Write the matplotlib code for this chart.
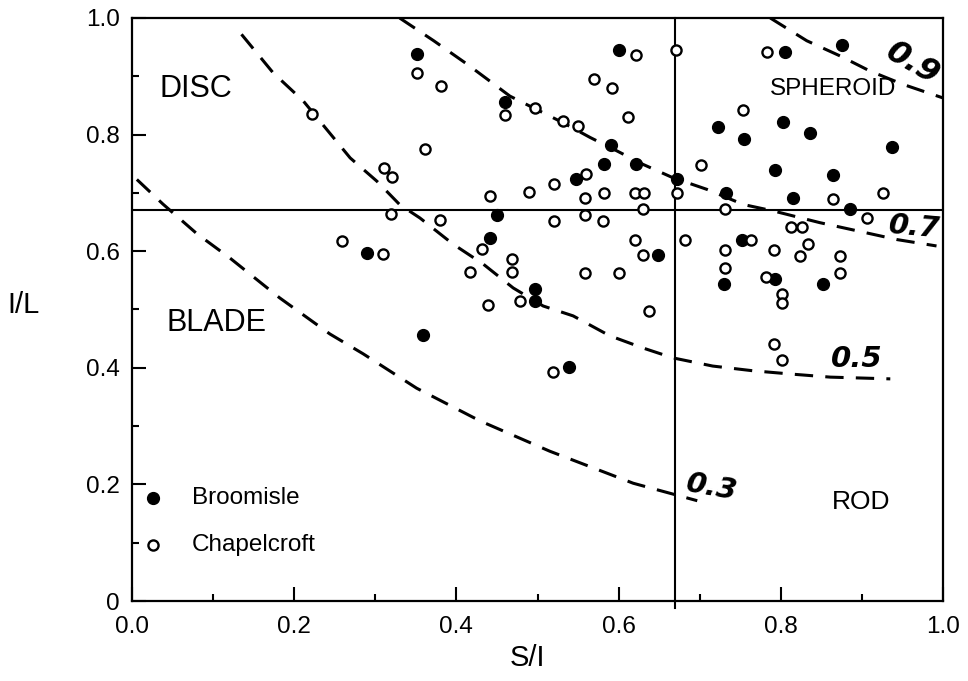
import matplotlib
matplotlib.use("Agg")
import matplotlib.pyplot as plt
import numpy as np

plt.rcParams['font.family'] = ['Liberation Sans', 'DejaVu Sans']

# ---- data ----
broomisle_x = [0.352, 0.460, 0.601, 0.591, 0.582, 0.621, 0.548, 0.672, 0.450, 0.441,
               0.649, 0.497, 0.497, 0.290, 0.359, 0.539, 0.805, 0.875, 0.803, 0.723,
               0.836, 0.937, 0.755, 0.793, 0.864, 0.732, 0.815, 0.885, 0.752, 0.730,
               0.852, 0.793]
broomisle_y = [0.939, 0.856, 0.945, 0.782, 0.749, 0.749, 0.723, 0.723, 0.662, 0.622,
               0.593, 0.535, 0.515, 0.597, 0.457, 0.401, 0.942, 0.953, 0.822, 0.813,
               0.802, 0.779, 0.792, 0.740, 0.730, 0.700, 0.691, 0.672, 0.619, 0.543,
               0.543, 0.552]

chapel_x = [0.222, 0.311, 0.320, 0.319, 0.259, 0.310, 0.352, 0.381, 0.460, 0.361,
            0.497, 0.532, 0.550, 0.621, 0.570, 0.592, 0.611, 0.671, 0.560, 0.672,
            0.441, 0.489, 0.520, 0.559, 0.582, 0.620, 0.631, 0.630, 0.380, 0.520,
            0.559, 0.581, 0.431, 0.417, 0.469, 0.469, 0.558, 0.600, 0.620, 0.630,
            0.478, 0.439, 0.638, 0.783, 0.754, 0.702, 0.731, 0.864, 0.906, 0.926,
            0.813, 0.826, 0.682, 0.763, 0.731, 0.731, 0.792, 0.834, 0.824, 0.873,
            0.873, 0.782, 0.802, 0.802, 0.791, 0.801, 0.519]
chapel_y = [0.835, 0.743, 0.728, 0.663, 0.618, 0.596, 0.906, 0.883, 0.833, 0.776,
            0.846, 0.823, 0.814, 0.936, 0.895, 0.880, 0.831, 0.945, 0.732, 0.700,
            0.694, 0.702, 0.715, 0.692, 0.700, 0.700, 0.700, 0.673, 0.654, 0.652,
            0.662, 0.652, 0.604, 0.565, 0.586, 0.564, 0.563, 0.562, 0.620, 0.593,
            0.515, 0.508, 0.497, 0.942, 0.843, 0.748, 0.673, 0.690, 0.657, 0.699,
            0.642, 0.642, 0.619, 0.619, 0.602, 0.572, 0.602, 0.612, 0.592, 0.592,
            0.562, 0.555, 0.526, 0.512, 0.440, 0.413, 0.393]

# sphericity contour lines (traced)
c03_x = [0.006, 0.038, 0.080, 0.121, 0.182, 0.244, 0.285, 0.351, 0.429, 0.515, 0.618, 0.697]
c03_y = [0.723, 0.681, 0.630, 0.588, 0.520, 0.458, 0.424, 0.365, 0.309, 0.257, 0.202, 0.172]
c05_x = [0.135, 0.174, 0.211, 0.240, 0.269, 0.302, 0.330, 0.355, 0.396, 0.433, 0.470,
         0.507, 0.544, 0.589, 0.630, 0.667, 0.716, 0.765, 0.815, 0.861, 0.935]
c05_y = [0.972, 0.906, 0.858, 0.809, 0.760, 0.720, 0.680, 0.657, 0.612, 0.578, 0.537,
         0.506, 0.489, 0.455, 0.434, 0.417, 0.403, 0.395, 0.389, 0.384, 0.381]
c07_x = [0.330, 0.372, 0.413, 0.441, 0.466, 0.499, 0.532, 0.565, 0.598, 0.630, 0.667,
         0.709, 0.754, 0.791, 0.848, 0.894, 0.943, 0.992]
c07_y = [1.000, 0.961, 0.921, 0.892, 0.866, 0.843, 0.820, 0.795, 0.772, 0.749, 0.726,
         0.706, 0.680, 0.669, 0.649, 0.635, 0.620, 0.609]
c09_x = [0.787, 0.832, 0.873, 0.910, 0.951, 1.004]
c09_y = [1.000, 0.961, 0.935, 0.909, 0.886, 0.861]

curve_labels = ["0.3", "0.5", "0.7", "0.9"]
boundary = 0.67

# ---- figure ----
fig = plt.figure(figsize=(9.68, 6.81), dpi=100)
ax = fig.add_axes([132/968, 80/681, 811/968, 583/681])
ax.set_xlim(0, 1)
ax.set_ylim(0, 1)

for cx, cy in [(c03_x, c03_y), (c05_x, c05_y), (c07_x, c07_y), (c09_x, c09_y)]:
    ax.plot(cx, cy, color='black', lw=2.2, linestyle=(0, (6, 4)), zorder=2)

ax.axhline(boundary, color='black', lw=1.5, zorder=1)
ax.plot([boundary, boundary], [-0.012, 1.0], color='black', lw=1.5, zorder=1, clip_on=False)

ax.plot(broomisle_x, broomisle_y, 'o', color='black', ms=8.5, zorder=3)
ax.plot(chapel_x, chapel_y, 'o', mfc='white', mec='black', ms=7.3, mew=1.7, zorder=3)

# contour labels
lab_kw = dict(fontsize=21, fontweight='bold', fontstyle='italic', family='DejaVu Sans',
              ha='center', va='center', zorder=4)
ax.text(0.715, 0.194, curve_labels[0], rotation=-10, **lab_kw)
ax.text(0.894, 0.415, curve_labels[1], **lab_kw)
ax.text(0.965, 0.641, curve_labels[2], rotation=-5, **lab_kw)
ax.text(0.963, 0.922, curve_labels[3], rotation=-30, **{**lab_kw, 'fontsize': 23})

# region labels
ax.text(0.0345, 0.878, "DISC", fontsize=22, va='center', ha='left')
ax.text(0.042, 0.477, "BLADE", fontsize=22, va='center', ha='left')
ax.text(0.787, 0.878, "SPHEROID", fontsize=17.5, va='center', ha='left')
ax.text(0.863, 0.170, "ROD", fontsize=19, va='center', ha='left')

# legend
ax.plot([0.026], [0.177], 'o', color='black', ms=8.5)
ax.plot([0.026], [0.096], 'o', mfc='white', mec='black', ms=7.3, mew=1.7)
ax.text(0.074, 0.177, "Broomisle", fontsize=17.5, va='center', ha='left')
ax.text(0.074, 0.096, "Chapelcroft", fontsize=17.5, va='center', ha='left')

# axes styling
ax.set_xticks(np.arange(0, 1.01, 0.2))
ax.set_xticks(np.arange(0.1, 1.0, 0.2), minor=True)
ax.set_yticks(np.arange(0, 1.01, 0.2))
ax.set_yticks(np.arange(0.1, 1.0, 0.2), minor=True)
ax.set_xticklabels(["0.0", "0.2", "0.4", "0.6", "0.8", "1.0"])
ax.set_yticklabels(["0", "0.2", "0.4", "0.6", "0.8", "1.0"])
ax.tick_params(which='major', direction='in', length=10, width=1.5, labelsize=17.5,
               top=False, right=False)
ax.tick_params(which='minor', direction='in', length=5, width=1.5, top=False, right=False)
ax.tick_params(axis='x', which='major', pad=11)
ax.tick_params(axis='y', which='major', pad=9)
for s in ax.spines.values():
    s.set_linewidth(1.6)

fig.text(24/968, 1 - 305/681, "I/L", fontsize=21, ha='center', va='center')
fig.text(527/968, 1 - 658/681, "S/I", fontsize=21, ha='center', va='center')

fig.savefig("out.png", dpi=100)
